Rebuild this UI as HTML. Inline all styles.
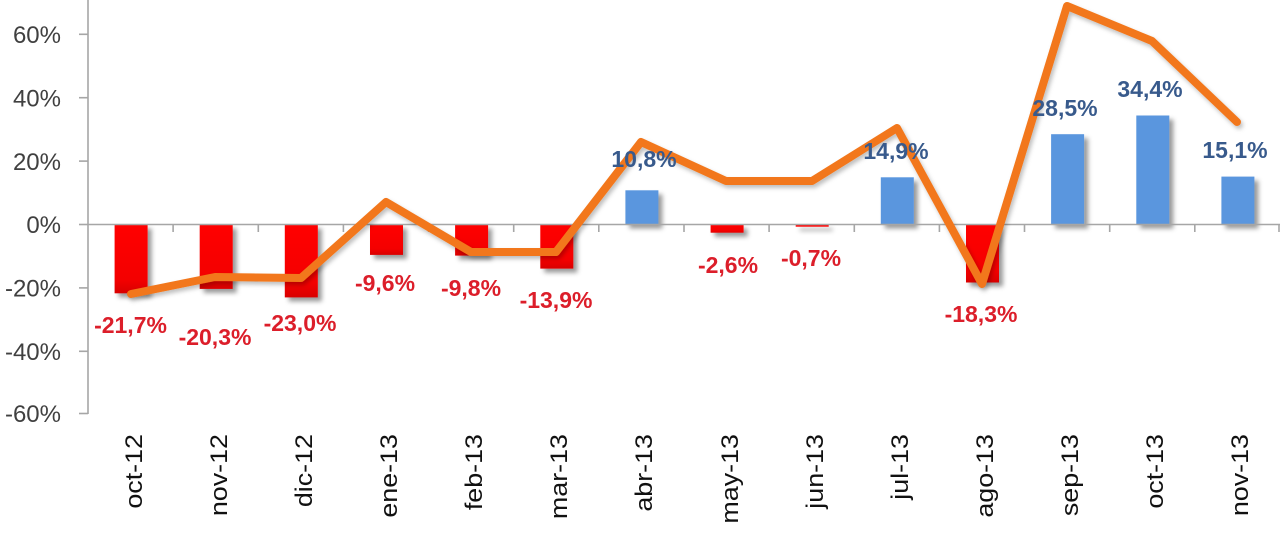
<!DOCTYPE html>
<html>
<head>
<meta charset="utf-8">
<style>
html,body{margin:0;padding:0;background:#fff;}
svg{display:block;}
</style>
</head>
<body>
<svg width="1280" height="544" viewBox="0 0 1280 544" xmlns="http://www.w3.org/2000/svg">
<defs>
<filter id="sh" x="-40%" y="-30%" width="180%" height="160%">
<feDropShadow dx="4" dy="4" stdDeviation="2.5" flood-color="#000" flood-opacity="0.4"/>
</filter>
<filter id="shl" x="-10%" y="-10%" width="120%" height="120%">
<feDropShadow dx="2" dy="3" stdDeviation="2" flood-color="#000" flood-opacity="0.25"/>
</filter>
<linearGradient id="rg" x1="0" y1="0" x2="0" y2="1">
<stop offset="0" stop-color="#FF0000"/>
<stop offset="0.8" stop-color="#F40000"/>
<stop offset="1" stop-color="#D80000"/>
</linearGradient>
</defs>

<!-- bars -->
<g filter="url(#sh)">
<rect x="114.6" y="224.5" width="33" height="68.8" fill="url(#rg)"/>
<rect x="199.7" y="224.5" width="33" height="64.4" fill="url(#rg)"/>
<rect x="284.8" y="224.5" width="33" height="72.9" fill="url(#rg)"/>
<rect x="370.0" y="224.5" width="33" height="30.4" fill="url(#rg)"/>
<rect x="455.1" y="224.5" width="33" height="31.1" fill="url(#rg)"/>
<rect x="540.3" y="224.5" width="33" height="44.1" fill="url(#rg)"/>
<rect x="625.4" y="190.3" width="33" height="34.2" fill="#5A96DE"/>
<rect x="710.6" y="224.5" width="33" height="8.2" fill="url(#rg)"/>
<rect x="795.7" y="224.5" width="33" height="2.2" fill="#FF0000"/>
<rect x="880.8" y="177.3" width="33" height="47.2" fill="#5A96DE"/>
<rect x="966.0" y="224.5" width="33" height="58" fill="url(#rg)"/>
<rect x="1051.1" y="134.2" width="33" height="90.3" fill="#5A96DE"/>
<rect x="1136.3" y="115.5" width="33" height="109" fill="#5A96DE"/>
<rect x="1221.4" y="176.6" width="33" height="47.9" fill="#5A96DE"/>
</g>

<!-- axes -->
<g stroke="#A6A6A6" stroke-width="1.6" fill="none">
<line x1="88" y1="0" x2="88" y2="414"/>
<line x1="79" y1="34.3" x2="88" y2="34.3"/>
<line x1="79" y1="97.7" x2="88" y2="97.7"/>
<line x1="79" y1="161.1" x2="88" y2="161.1"/>
<line x1="79" y1="224.5" x2="88" y2="224.5"/>
<line x1="79" y1="287.9" x2="88" y2="287.9"/>
<line x1="79" y1="351.3" x2="88" y2="351.3"/>
<line x1="79" y1="413.5" x2="88" y2="413.5"/>
<line x1="88" y1="224.5" x2="1280" y2="224.5"/>
<line x1="173.1" y1="224.5" x2="173.1" y2="232"/>
<line x1="258.3" y1="224.5" x2="258.3" y2="232"/>
<line x1="343.4" y1="224.5" x2="343.4" y2="232"/>
<line x1="428.6" y1="224.5" x2="428.6" y2="232"/>
<line x1="513.7" y1="224.5" x2="513.7" y2="232"/>
<line x1="598.8" y1="224.5" x2="598.8" y2="232"/>
<line x1="684.0" y1="224.5" x2="684.0" y2="232"/>
<line x1="769.1" y1="224.5" x2="769.1" y2="232"/>
<line x1="854.3" y1="224.5" x2="854.3" y2="232"/>
<line x1="939.4" y1="224.5" x2="939.4" y2="232"/>
<line x1="1024.5" y1="224.5" x2="1024.5" y2="232"/>
<line x1="1109.7" y1="224.5" x2="1109.7" y2="232"/>
<line x1="1194.8" y1="224.5" x2="1194.8" y2="232"/>
<line x1="1279" y1="224.5" x2="1279" y2="232"/>
</g>

<!-- y labels -->
<g font-family="Liberation Sans, Arial, sans-serif" font-size="24" fill="#404040" text-anchor="end">
<text x="61" y="43">60%</text>
<text x="61" y="106.4">40%</text>
<text x="61" y="169.8">20%</text>
<text x="61" y="233.2">0%</text>
<text x="61" y="296.6">-20%</text>
<text x="61" y="360">-40%</text>
<text x="61" y="422.2">-60%</text>
</g>

<!-- orange line -->
<polyline filter="url(#shl)" fill="none" stroke="#F2771A" stroke-width="8" stroke-linejoin="round" stroke-linecap="round"
points="131,294 215,277 301,278 386,202 471,252 556,252 641,142 726,181 812,181 897,128 982,284 1067,6 1152,41 1237,122"/>

<!-- data labels -->
<g font-family="Liberation Sans, Arial, sans-serif" font-size="23" font-weight="bold" text-anchor="middle">
<g fill="#DC1E2A">
<text x="130.5" y="333">-21,7%</text>
<text x="215" y="345">-20,3%</text>
<text x="300" y="331">-23,0%</text>
<text x="385" y="291">-9,6%</text>
<text x="471" y="296">-9,8%</text>
<text x="556" y="308">-13,9%</text>
<text x="728" y="273">-2,6%</text>
<text x="811" y="266">-0,7%</text>
<text x="981" y="322">-18,3%</text>
</g>
<g fill="#385A8C">
<text x="644" y="167">10,8%</text>
<text x="896" y="159">14,9%</text>
<text x="1065" y="116">28,5%</text>
<text x="1150" y="97">34,4%</text>
<text x="1235" y="158">15,1%</text>
</g>
</g>

<!-- x labels -->
<g font-family="Liberation Sans, Arial, sans-serif" font-size="24" fill="#111" text-anchor="end">
<text transform="translate(142,434) rotate(-90) scale(1.12,1)">oct-12</text>
<text transform="translate(227,434) rotate(-90) scale(1.12,1)">nov-12</text>
<text transform="translate(312,434) rotate(-90) scale(1.12,1)">dic-12</text>
<text transform="translate(397,434) rotate(-90) scale(1.12,1)">ene-13</text>
<text transform="translate(482,434) rotate(-90) scale(1.12,1)">feb-13</text>
<text transform="translate(567,434) rotate(-90) scale(1.12,1)">mar-13</text>
<text transform="translate(652,434) rotate(-90) scale(1.12,1)">abr-13</text>
<text transform="translate(738,434) rotate(-90) scale(1.12,1)">may-13</text>
<text transform="translate(823,434) rotate(-90) scale(1.12,1)">jun-13</text>
<text transform="translate(908,434) rotate(-90) scale(1.12,1)">jul-13</text>
<text transform="translate(993,434) rotate(-90) scale(1.12,1)">ago-13</text>
<text transform="translate(1078,434) rotate(-90) scale(1.12,1)">sep-13</text>
<text transform="translate(1163,434) rotate(-90) scale(1.12,1)">oct-13</text>
<text transform="translate(1248,434) rotate(-90) scale(1.12,1)">nov-13</text>
</g>
</svg>
</body>
</html>
